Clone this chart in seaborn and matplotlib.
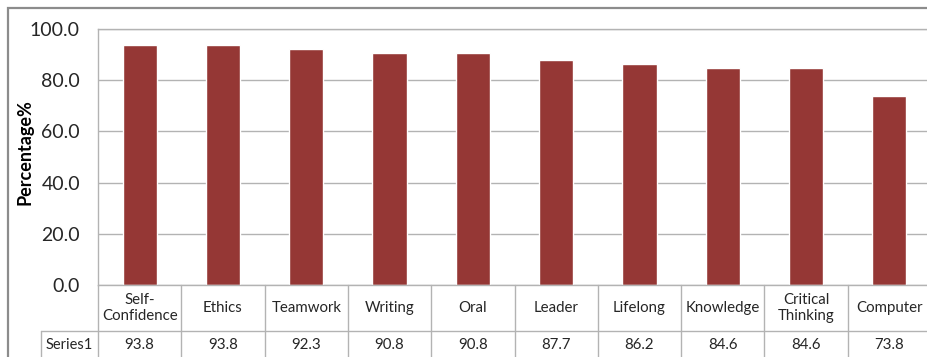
import matplotlib
matplotlib.use("Agg")
import matplotlib.pyplot as plt
import seaborn as sns
import pandas as pd
from matplotlib.patches import Rectangle
from matplotlib.transforms import blended_transform_factory

# data
skills = ["Self-\nConfidence", "Ethics", "Teamwork", "Writing", "Oral",
          "Leader", "Lifelong", "Knowledge", "Critical\nThinking", "Computer"]
percentages = [93.8, 93.8, 92.3, 90.8, 90.8, 87.7, 86.2, 84.6, 84.6, 73.8]
series_name = "Series1"
y_ticks = [0, 20, 40, 60, 80, 100]

sns.set_style("white")
plt.rcParams["font.family"] = ["Lato", "DejaVu Sans"]

BAR = "#953735"
GRID = "#b3b3b3"
TEXT = "#262626"

df = pd.DataFrame({"skill": skills, "pct": percentages})

W, H = 927, 357
fig = plt.figure(figsize=(W / 100, H / 100), dpi=100)
ax = fig.add_axes([98 / W, 72 / H, 833 / W, 256 / H])

sns.barplot(data=df, x="skill", y="pct", color=BAR, width=0.41,
            saturation=1, ax=ax)

ax.set_xlim(-0.5, len(skills) - 0.5)
ax.set_ylim(0, 100)
ax.set_yticks(y_ticks)
ax.yaxis.set_major_formatter("{x:.1f}")
ax.grid(axis="y", color=GRID, lw=1)
ax.set_axisbelow(True)
for side in ["left", "top", "bottom", "right"]:
    ax.spines[side].set_color(GRID)
    ax.spines[side].set_linewidth(1)
ax.set_xticks([])
ax.set_xlabel("")
ax.tick_params(axis="y", length=0, pad=13, labelsize=14, labelcolor=TEXT)
ax.set_ylabel("Percentage%", fontsize=13, fontweight="bold", color="black")
ax.yaxis.set_label_coords(-65 / 833, 0.52)

# data table under the plot (Excel style)
trans = blended_transform_factory(ax.transData, ax.transAxes)
header_bottom = -46 / 256
table_bottom = -90 / 256
row_label_left = -57 / 833
for i in range(len(skills) + 1):
    ax.plot([i - 0.5, i - 0.5], [0, table_bottom], transform=trans,
            clip_on=False, color=GRID, lw=1)
ax.plot([row_label_left, 1.05], [header_bottom, header_bottom],
        transform=ax.transAxes, clip_on=False, color=GRID, lw=1)
ax.plot([row_label_left, row_label_left], [header_bottom, table_bottom],
        transform=ax.transAxes, clip_on=False, color=GRID, lw=1)

value_row_y = -60 / 256
for i, (s, v) in enumerate(zip(skills, percentages)):
    ax.text(i, header_bottom / 2, s, transform=trans, ha="center",
            va="center", fontsize=10.8, color=TEXT, linespacing=1.1)
    ax.text(i, value_row_y, f"{v:.1f}", transform=trans, ha="center",
            va="center", fontsize=10.8, color=TEXT)
ax.text(row_label_left / 2, value_row_y, series_name, transform=ax.transAxes,
        ha="center", va="center", fontsize=10.5, color=TEXT)

# outer chart frame
fig.add_artist(Rectangle((8 / W, -0.1), 1.2, (H - 8) / H + 0.1,
                         transform=fig.transFigure, fill=False,
                         edgecolor="#8c8c8c", lw=1.6))

fig.savefig("out.png", dpi=100)
